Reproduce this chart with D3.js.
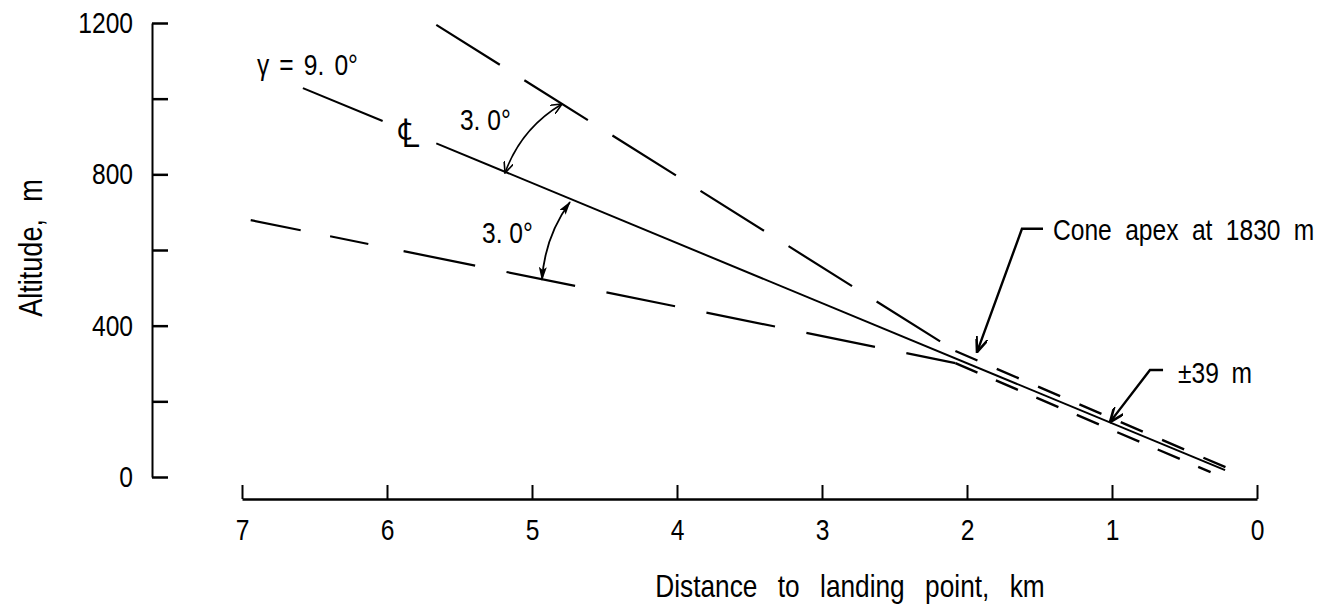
<!DOCTYPE html>
<html lang="en">
<head>
<meta charset="UTF-8">
<script src="https://cdn.jsdelivr.net/npm/d3@7"></script>
<style>
  body { margin: 0; background: #fff; }
  svg { display: block; }
  text { font-family: 'Liberation Sans', Arial, sans-serif; fill: #000; }
</style>
<title>Glide slope cone</title>
</head>
<body>
<script>
// Glide slope cone: altitude vs distance to landing point

let w = 1330;
let h = 608;

// ticks
let xTicks = [7, 6, 5, 4, 3, 2, 1, 0];
let yTicks = [0, 200, 400, 600, 800, 1000, 1200];
let yTickLabels = ['0', '', '400', '', '800', '', '1200'];

// lines as [km, m]
let centerA = [[6.58, 1028], [6.03, 941]];   // before the centre-line symbol
let centerB = [[5.66, 882], [0.22, 18]];
let coneUpper = [[5.66, 1195], [2.08, 333]];
let coneLower = [[6.94, 679], [2.08, 301]];
let bandUpper = [[2.08, 333], [0.17, 18]];
let bandLower = [[2.08, 301], [0.32, 13]];

// angle arcs and leaders, [km, m]
let arcUpper = [[4.793, 986], [5.186, 804]];
let arcLower = [[4.738, 727], [4.931, 521]];
let apexLeader = [[1.476, 656], [1.621, 656], [1.931, 330]];
let bandLeader = [[0.648, 283], [0.738, 283], [1.014, 145]];

// labels, [km, m, text]
let notes = [
  [6.897, 1063, 'γ = 9. 0°'],
  [5.497, 917, '3. 0°'],
  [5.345, 619, '3. 0°'],
  [1.407, 627, 'Cone apex at 1830 m'],
  [0.545, 248, '±39 m']
];
let noteSpacing = [4, 0, 0, 8, 7];
let clMark = [5.93, 873];

// condensed lettering: squeeze each text to a fraction of its width
let narrow = 0.82;
function condense(sel) {
  sel.each(function() {
    let n = this.getComputedTextLength();
    d3.select(this).attr('textLength', n * narrow).attr('lengthAdjust', 'spacingAndGlyphs');
  });
}

let x = d3.scaleLinear().domain([7, 0]).range([242, 1257]);
let y = d3.scaleLinear().domain([0, 1200]).range([477, 23]);

let svg = d3.select('body')
            .append('svg')
            .attr('width', w)
            .attr('height', h);

// arrow heads
let defs = svg.append('defs');
defs.append('marker')
    .attr('id', 'open')
    .attr('viewBox', '0 0 12 10')
    .attr('refX', 11).attr('refY', 5)
    .attr('markerWidth', 12).attr('markerHeight', 10)
    .attr('markerUnits', 'userSpaceOnUse')
    .attr('orient', 'auto-start-reverse')
  .append('path')
    .attr('d', 'M0,0 L11,5 L0,10')
    .attr('fill', 'none')
    .attr('stroke', '#000')
    .attr('stroke-width', 1.6);
defs.append('marker')
    .attr('id', 'solid')
    .attr('viewBox', '0 0 14 8')
    .attr('refX', 13).attr('refY', 4)
    .attr('markerWidth', 14).attr('markerHeight', 8)
    .attr('markerUnits', 'userSpaceOnUse')
    .attr('orient', 'auto-start-reverse')
  .append('path')
    .attr('d', 'M0,0 L14,4 L0,8 L3,4 Z')
    .attr('fill', '#000');
defs.append('marker')
    .attr('id', 'lead')
    .attr('viewBox', '0 0 16 12')
    .attr('refX', 15).attr('refY', 6)
    .attr('markerWidth', 16).attr('markerHeight', 12)
    .attr('markerUnits', 'userSpaceOnUse')
    .attr('orient', 'auto')
  .append('path')
    .attr('d', 'M0,0 L15,6 L0,12')
    .attr('fill', 'none')
    .attr('stroke', '#000')
    .attr('stroke-width', 2.6);

// axes
let yAxis = svg.append('g')
    .attr('transform', 'translate(152,0)')
    .call(d3.axisLeft(y).tickValues(yTicks).tickSize(-16).tickSizeOuter(0).tickPadding(19)
            .tickFormat((d, i) => yTickLabels[i]));
yAxis.select('.domain').attr('stroke-width', 2);
yAxis.selectAll('.tick line').attr('stroke-width', 2.5);
yAxis.selectAll('text').attr('font-size', 30).attr('font-family', null).call(condense);

let xAxis = svg.append('g')
    .attr('transform', 'translate(0,499)')
    .call(d3.axisBottom(x).tickValues(xTicks).tickSize(-14).tickSizeOuter(0).tickPadding(20)
            .tickFormat(d3.format('d')));
xAxis.select('.domain').attr('stroke-width', 2.4);
xAxis.selectAll('.tick line').attr('stroke-width', 2);
xAxis.selectAll('text').attr('font-size', 30).attr('font-family', null).call(condense);

svg.append('text')
    .attr('transform', 'translate(42,248) rotate(-90)')
    .attr('text-anchor', 'middle')
    .attr('font-size', 33)
    .style('word-spacing', '12px')
    .text('Altitude, m')
    .call(condense);

svg.append('text')
    .attr('x', 850).attr('y', 597)
    .attr('text-anchor', 'middle')
    .attr('font-size', 32)
    .style('word-spacing', '16px')
    .text('Distance to landing point, km')
    .call(condense);

// lines
let line = d3.line().x(d => x(d[0])).y(d => y(d[1]));

let paths = [
  [centerA, null, 2],
  [centerB, null, 2],
  [coneUpper, '75,29', 2.2],
  [coneLower, '51,30,39,36,73,32,70,32,70,32,70,32,70,32,70,32', 2.2],
  [bandUpper, '24,21', 2.4],
  [bandLower, '24,20', 2.4]
];
svg.selectAll('path.ln')
    .data(paths)
    .enter()
    .append('path')
    .attr('class', 'ln')
    .attr('d', d => line(d[0]))
    .attr('fill', 'none')
    .attr('stroke', '#000')
    .attr('stroke-width', d => d[2])
    .attr('stroke-dasharray', d => d[1]);

// angle arcs, bowed away from the apex
function arc(pts, bow) {
  let x0 = x(pts[0][0]), y0 = y(pts[0][1]);
  let x1 = x(pts[1][0]), y1 = y(pts[1][1]);
  let dx = x1 - x0, dy = y1 - y0, len = Math.hypot(dx, dy);
  let p = d3.path();
  p.moveTo(x0, y0);
  p.quadraticCurveTo((x0 + x1) / 2 - dy / len * bow, (y0 + y1) / 2 + dx / len * bow, x1, y1);
  return p.toString();
}
svg.append('path')
    .attr('d', arc(arcUpper, 16))
    .attr('fill', 'none').attr('stroke', '#000').attr('stroke-width', 1.6)
    .attr('marker-start', 'url(#open)').attr('marker-end', 'url(#open)');
svg.append('path')
    .attr('d', arc(arcLower, 12))
    .attr('fill', 'none').attr('stroke', '#000').attr('stroke-width', 1.8)
    .attr('marker-start', 'url(#solid)').attr('marker-end', 'url(#solid)');

// leaders
svg.selectAll('path.lead')
    .data([apexLeader, bandLeader])
    .enter()
    .append('path')
    .attr('class', 'lead')
    .attr('d', d => line(d))
    .attr('fill', 'none')
    .attr('stroke', '#000')
    .attr('stroke-width', 2.4)
    .attr('marker-end', 'url(#lead)');

// labels, squeezed with a transform so their boxes stay true
svg.selectAll('text.note')
    .data(notes)
    .enter()
    .append('text')
    .attr('class', 'note')
    .attr('transform', d => 'translate(' + x(d[0]) + ',' + y(d[1]) + ') scale(' + narrow + ',1)')
    .attr('font-size', 30)
    .style('word-spacing', (d, i) => noteSpacing[i] + 'px')
    .text(d => d[2]);

// centre-line symbol
svg.append('text')
    .attr('x', x(clMark[0])).attr('y', y(clMark[1]))
    .attr('font-family', "'DejaVu Sans', sans-serif")
    .attr('font-size', 40)
    .text('\u2104');
</script>
</body>
</html>
